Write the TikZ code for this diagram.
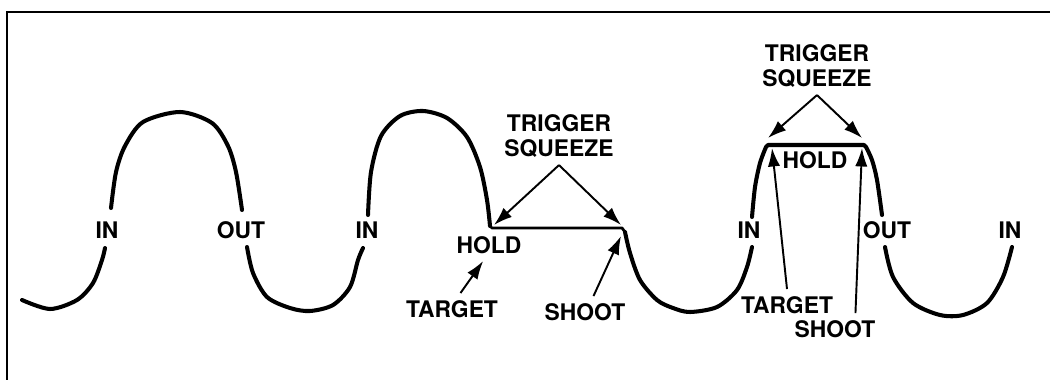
\documentclass[tikz,border=0pt]{standalone}
\usepackage{fontspec}
\setmainfont{TeX Gyre Heros}
\usetikzlibrary{arrows.meta}
\tikzset{
      wave/.style={
        line width=2.3pt,
        line cap=round,
        line join=round
      },
      lbl/.style={
        font=\bfseries\fontsize{13}{14.5}\selectfont,
        align=center,
        inner sep=4pt
      },
      pointer/.style={
        -{Latex[length=10.5pt,width=7pt]},
        line width=1.1pt
      }
    }
\begin{document}
\begin{tikzpicture}[x=0.02cm,y=-0.02cm]
    \useasboundingbox (0,0) rectangle (1050,379);
    \draw[line width=1.7pt] (7,400) |- (1070,12);
    % waveform, broken where the labels sit
    \draw[wave] plot[smooth] coordinates {(22,300) (50,309) (77,300) (93,283) (102,260) (105,248)};
    \draw[wave] plot[smooth] coordinates {(111,208) (116,172) (125,146) (143,122) (180,112) (212,123) (228,146) (236,172) (242,210)};
    \draw[wave] plot[smooth] coordinates {(247,247) (253,273) (267,297) (290,308) (310,311) (333,305) (350,287) (358,260) (363,248)};
    \draw[wave] plot[smooth] coordinates {(368,215) (371,172) (381,136) (400,116) (423,111) (447,118) (467,137) (480,167) (487,200) (490,226)};
    \draw[wave, line width=1.6pt] (490,226) -- (492,228) -- (622,228) -- (625,232);
    \draw[wave] plot[smooth] coordinates {(625,232) (630,253) (640,280) (657,300) (673,308) (690,312) (717,307) (737,290) (747,267) (752,247)};
    \draw[wave] plot[smooth] coordinates {(752,217) (755,187) (760,163) (766,147)} -- (768,145) -- (864,145) -- plot[smooth] coordinates {(866,147) (872,160) (877,180) (882,215)};
    \draw[wave] plot[smooth] coordinates {(885,247) (893,277) (913,303) (940,315) (963,315) (987,303) (1003,277) (1012,247)};
    % labels
    \node[lbl] (in1) at (107,230) {IN};
    \node[lbl] (out1) at (241,230) {OUT};
    \node[lbl] (in2) at (367,230) {IN};
    \node[lbl] (in3) at (749,230) {IN};
    \node[lbl] (out2) at (887,230) {OUT};
    \node[lbl] (in4) at (1010,230) {IN};
    \node[lbl] (hold1) at (489,245) {HOLD};
    \node[lbl] (hold2) at (815,160) {HOLD};
    \node[lbl] (squeeze1) at (559,136) {TRIGGER\\SQUEEZE};
    \node[lbl] (squeeze2) at (817,66) {TRIGGER\\SQUEEZE};
    \node[lbl] (target1) at (452,309) {TARGET};
    \node[lbl] (shoot1) at (585,312) {SHOOT};
    \node[lbl] (target2) at (787,305) {TARGET};
    \node[lbl] (shoot2) at (835,329) {SHOOT};
    % arrow ends on the waveform
    \coordinate (holdstart1) at (494,225);
    \coordinate (holdend1) at (621,225);
    \coordinate (shootpt1) at (621,236);
    \coordinate (holdstart2) at (768,138);
    \coordinate (holdend2) at (862,138);
    \coordinate (targetpt2) at (772,148);
    \coordinate (shootpt2) at (862,148);
    \draw[pointer] (squeeze1.south) -- (holdstart1);
    \draw[pointer] (squeeze1.south) -- (holdend1);
    \draw[pointer] (squeeze2.south) -- (holdstart2);
    \draw[pointer] (squeeze2.south) -- (holdend2);
    \draw[pointer] (target1.62) -- (hold1.250);
    \draw[pointer] (shoot1.62) -- (shootpt1);
    \draw[pointer] (target2.north) -- (targetpt2);
    \draw[pointer] (shoot2.38) -- (shootpt2);
\end{tikzpicture}
\end{document}
